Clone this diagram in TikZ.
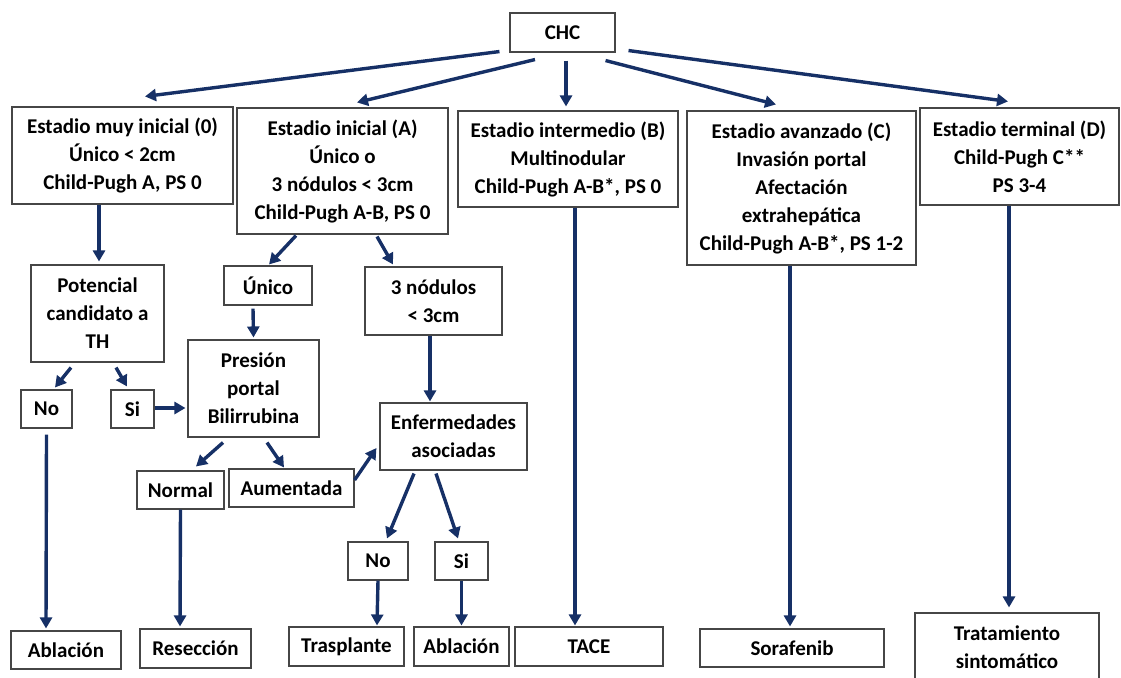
\documentclass[tikz,border=0pt]{standalone}
\usepackage{fontspec}
\setmainfont{Carlito}
\usetikzlibrary{arrows.meta,calc}
\definecolor{navy}{RGB}{22,48,102}
\definecolor{rand}{RGB}{70,70,70}

\begin{document}
\begin{tikzpicture}
  [x=1pt,y=-1pt,
    box/.style={draw=rand,line width=1.1pt,fill=white,inner sep=0pt,
    align=center,font=\fontsize{21}{28}\selectfont\bfseries},
    arr/.style={draw=navy,line width=3.4pt,
    -{Triangle[length=11pt,width=12pt]}}]
  \useasboundingbox (0,0) rectangle (1121,677);
  % Stadien
  \node[box,minimum width=105pt,minimum height=39pt] (chc) at (562.5,32.5) {CHC};
  \node[box,minimum width=221pt,minimum height=97pt] (s0) at (122.5,155.5)
    {Estadio muy inicial (0)\\Único < 2cm\\Child-Pugh A, PS 0};
  \node[box,minimum width=211pt,minimum height=126pt] (sa) at (342.5,171)
    {Estadio inicial (A)\\Único o\\3 nódulos < 3cm\\Child-Pugh A-B, PS 0};
  \node[box,minimum width=220pt,minimum height=96pt] (sb) at (568,159)
    {Estadio intermedio (B)\\Multinodular\\Child-Pugh A-B*, PS 0};
  \node[box,minimum width=229pt,minimum height=154pt] (sc) at (801.5,188)
    {Estadio avanzado (C)\\Invasión portal\\Afectación\\extrahepática\\Child-Pugh A-B*, PS 1-2};
  \node[box,minimum width=199pt,minimum height=97pt] (sd) at (1019.5,156.5)
    {Estadio terminal (D)\\Child-Pugh C**\\PS 3-4};
  % Entscheidungen
  \node[box,minimum width=133pt,minimum height=97pt] (pot) at (97.5,313.5)
    {Potencial\\candidato a\\TH};
  \node[box,minimum width=88pt,minimum height=39pt] (unico) at (268,285.5) {Único};
  \node[box,minimum width=137pt,minimum height=68pt] (tres) at (433.5,301)
    {3 nódulos\\< 3cm};
  \node[box,minimum width=131pt,minimum height=97pt] (pres) at (253.5,388.5)
    {Presión\\portal\\Bilirrubina};
  \node[box,minimum width=147pt,minimum height=67pt] (enf) at (453.5,436.5)
    {Enfermedades\\asociadas};
  \node[box,minimum width=51pt,minimum height=38pt] (no1) at (46.5,409) {No};
  \node[box,minimum width=43pt,minimum height=38pt] (si1) at (132.5,409) {Si};
  \node[box,minimum width=87pt,minimum height=38pt] (normal) at (180.5,490) {Normal};
  \node[box,minimum width=125pt,minimum height=38pt] (aum) at (291.5,488) {Aumentada};
  \node[box,minimum width=60pt,minimum height=38pt] (no2) at (378,561) {No};
  \node[box,minimum width=53pt,minimum height=38pt] (si2) at (461.5,561) {Si};
  % Therapie
  \node[box,minimum width=110pt,minimum height=38pt] (abl1) at (66,650) {Ablación};
  \node[box,minimum width=111pt,minimum height=39pt] (res) at (195.5,648.5) {Resección};
  \node[box,minimum width=115pt,minimum height=39pt] (tras) at (346.5,646.5) {Trasplante};
  \node[box,minimum width=95pt,minimum height=39pt] (abl2) at (461.5,646.5) {Ablación};
  \node[box,minimum width=148pt,minimum height=39pt] (tace) at (589,646.5) {TACE};
  \node[box,minimum width=184pt,minimum height=38pt] (sora) at (792,648) {Sorafenib};
  \node[box,minimum width=184pt,minimum height=68pt] (trat) at (1007,647)
    {Tratamiento\\sintomático};
  % Pfeile
  \draw[arr] ($(chc.south west)+(-10,-1)$) -- ($(s0.north)+(22.5,-10)$);
  \draw[arr] ($(chc.south)+(-27.5,7)$) -- ($(sa.north)+(14.5,-5)$);
  \draw[arr] ($(chc.south)+(3.5,8)$) -- ($(sb.north)+(-2,-4)$);
  \draw[arr] ($(chc.south east)+(-10,8)$) -- ($(sc.north)+(-25.5,-6)$);
  \draw[arr] ($(chc.south east)+(13,-2)$) -- ($(sd.north)+(-11.5,-6)$);
  \draw[arr] ($(s0.south)+(-23.5,0)$) -- ($(pot.north)+(1.5,-3)$);
  \draw[arr] ($(sa.south)+(-46.5,1)$) -- ($(unico.north)+(1,-1)$);
  \draw[arr] ($(sa.south)+(34.5,2)$) -- ($(tres.north)+(-40.5,-2)$);
  \draw[arr] ($(unico.south)+(-15,3)$) -- ($(pres.north)+(0,-2)$);
  \draw[arr] ($(tres.south)+(-3.5,0)$) -- ($(enf.north)+(-23.5,-1)$);
  \draw[arr] ($(pot.south)+(-26.5,5)$) -- ($(no1.north)+(8.5,-2)$);
  \draw[arr] ($(pot.south)+(18.5,5)$) -- ($(si1.north)+(-5.5,-3)$);
  \draw[arr] ($(si1.east)+(0,-1)$) -- ($(pres.west)+(-2,19.5)$);
  \draw[arr] ($(pres.south)+(-30.5,5)$) -- ($(normal.north)+(15.5,-4)$);
  \draw[arr] ($(pres.south)+(13.5,5)$) -- ($(aum.north)+(-7.5,-1)$);
  \draw[arr] ($(aum.east)+(0,-8)$) -- ($(enf.west)+(-3,11.5)$);
  \draw[arr] ($(enf.south)+(-39.5,3)$) -- ($(no2.north)+(9,-3)$);
  \draw[arr] ($(enf.south)+(-17.5,3)$) -- ($(si2.north)+(-3.5,-3)$);
  \draw[arr] ($(no1.south)+(0,6)$) -- ($(abl1.north)+(-20,-2)$);
  \draw[arr] (normal.south) -- ($(res.north)+(-15.5,-2)$);
  \draw[arr] (no2.south) -- ($(tras.north)+(30.5,-1)$);
  \draw[arr] (si2.south) -- ($(abl2.north)+(0,-1)$);
  \draw[arr] ($(sb.south)+(7,0)$) -- ($(tace.north)+(-14,-1)$);
  \draw[arr] ($(sc.south)+(-11.5,0)$) -- ($(sora.north)+(-2,-2)$);
  \draw[arr] ($(sd.south)+(-10.5,0)$) -- ($(trat.north)+(2,-5)$);
\end{tikzpicture}
\end{document}
